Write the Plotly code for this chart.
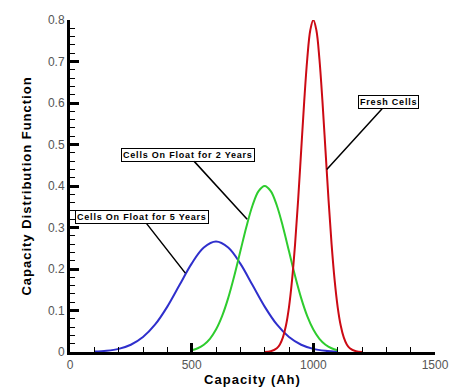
import plotly.graph_objects as go

# Capacity (Ah) and distribution values
fresh_x = [800, 825, 850, 862.5, 875, 887.5, 900, 912.5, 925, 937.5, 950, 962.5, 975, 987.5, 1000,
           1012.5, 1025, 1037.5, 1050, 1062.5, 1075, 1087.5, 1100, 1112.5, 1125, 1137.5, 1150, 1175, 1200]
fresh_y = [0.0003, 0.0018, 0.0089, 0.0182, 0.0351, 0.0637, 0.1083, 0.1730, 0.2598, 0.3662, 0.4852, 0.6038, 0.7060, 0.7754, 0.8,
           0.7754, 0.7060, 0.6038, 0.4852, 0.3662, 0.2598, 0.1730, 0.1083, 0.0637, 0.0351, 0.0182, 0.0089, 0.0018, 0.0003]

float2_x = [500, 525, 550, 575, 600, 625, 650, 675, 700, 725, 750, 775, 800,
            825, 850, 875, 900, 925, 950, 975, 1000, 1025, 1050, 1075, 1100]
float2_y = [0.0044, 0.0091, 0.0176, 0.0318, 0.0541, 0.0865, 0.1299, 0.1831, 0.2426, 0.3019, 0.3530, 0.3877, 0.4,
            0.3877, 0.3530, 0.3019, 0.2426, 0.1831, 0.1299, 0.0865, 0.0541, 0.0318, 0.0176, 0.0091, 0.0044]

float5_x = [100, 150, 200, 250, 300, 350, 400, 450, 500, 550, 600,
            650, 700, 750, 800, 850, 900, 950, 1000, 1050, 1100]
float5_y = [0.001, 0.003, 0.0076, 0.0175, 0.036, 0.0663, 0.1093, 0.1613, 0.213, 0.2516, 0.266,
            0.2516, 0.213, 0.1613, 0.1093, 0.0663, 0.036, 0.0175, 0.0076, 0.003, 0.001]

x_ticks = [0, 500, 1000, 1500]
y_ticks = [0, 0.1, 0.2, 0.3, 0.4, 0.5, 0.6, 0.7, 0.8]
y_tick_labels = ["0", "0.1", "0.2", "0.3", "0.4", "0.5", "0.6", "0.7", "0.8"]

fig = go.Figure()
fig.add_trace(go.Scatter(x=float5_x, y=float5_y, mode="lines", line=dict(color="#2f2fcc", width=2, shape="spline"),
                         name="Cells On Float for 5 Years"))
fig.add_trace(go.Scatter(x=float2_x, y=float2_y, mode="lines", line=dict(color="#2ecc2e", width=2, shape="spline"),
                         name="Cells On Float for 2 Years"))
fig.add_trace(go.Scatter(x=fresh_x, y=fresh_y, mode="lines", line=dict(color="#cc0a14", width=2, shape="spline"),
                         name="Fresh Cells"))


def spaced(t, sp):
    return '<span style="letter-spacing:%s"><b>%s</b></span>' % (sp, t)


ann_font = dict(family="Arial, Liberation Sans, sans-serif", size=9, color="black")
annotations = [
    dict(text=spaced("Fresh Cells", "0.8px"), x=1055, y=0.44, ax=1307, ay=0.602),
    dict(text=spaced("Cells On Float for 2 Years", "0.8px"), x=728, y=0.32, ax=486, ay=0.475),
    dict(text=spaced("Cells On Float for 5 Years", "0.8px"), x=474, y=0.19, ax=294, ay=0.325),
]
for a in annotations:
    fig.add_annotation(xref="x", yref="y", axref="x", ayref="y", showarrow=True, arrowhead=0,
                       arrowwidth=1.5, arrowcolor="black", bordercolor="black", borderwidth=1,
                       borderpad=1, bgcolor="white", font=ann_font, **a)

# page body adds an 8px offset, so the figure is 8px smaller than the window
fig.update_layout(
    width=454, height=382,
    margin=dict(l=62, r=27, t=12, b=38, autoexpand=False),
    paper_bgcolor="white", plot_bgcolor="white",
    showlegend=False,
    font=dict(family="Arial, Liberation Sans, sans-serif", color="#555555", size=12),
)
fig.update_xaxes(
    range=[0, 1500], tickvals=x_ticks, ticktext=[str(v) for v in x_ticks],
    showgrid=False, zeroline=False, showline=True, linecolor="black", linewidth=3,
    ticks="inside", ticklen=9, tickwidth=3, tickcolor="black", automargin=False,
    minor=dict(ticks="inside", dtick=100, ticklen=5, tickwidth=1, tickcolor="black", showgrid=False),
    title=dict(text=spaced("Capacity (Ah)", "1px"), font=dict(size=13, color="black"), standoff=0),
    tickfont=dict(size=12, color="#555555"),
)
fig.update_yaxes(
    range=[0, 0.8], tickvals=y_ticks, ticktext=y_tick_labels,
    showgrid=False, zeroline=False, showline=True, linecolor="black", linewidth=3,
    ticks="inside", ticklen=9, tickwidth=3, tickcolor="black", automargin=False,
    minor=dict(ticks="inside", dtick=0.02, ticklen=5, tickwidth=1, tickcolor="black", showgrid=False),
    title=dict(text=spaced("Capacity Distribution Function", "1px"), font=dict(size=13, color="black"), standoff=14),
    tickfont=dict(size=12, color="#555555"),
)

fig.write_html("out.html")
